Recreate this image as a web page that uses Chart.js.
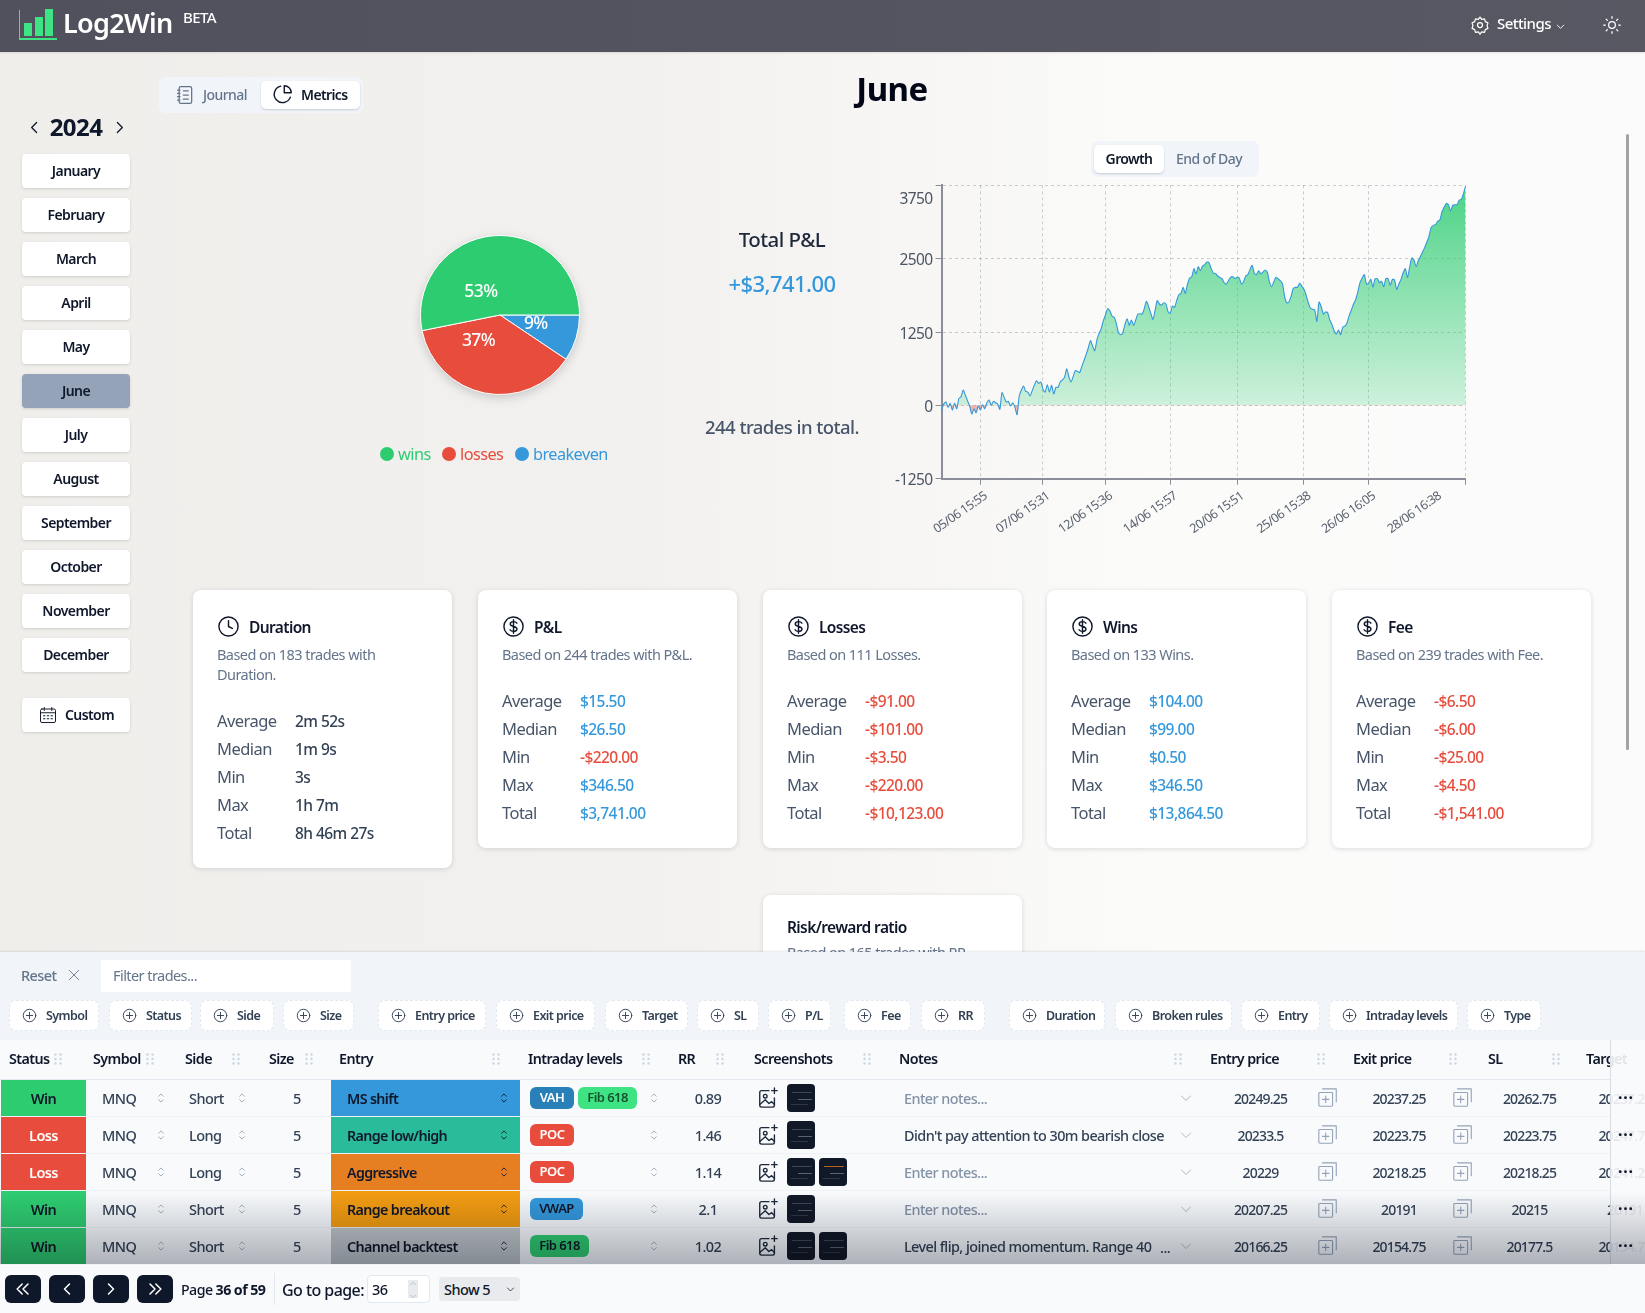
<!DOCTYPE html>
<html>
<head>
<meta charset="utf-8">
<script src="https://cdn.jsdelivr.net/npm/chart.js@4"></script>
<style>
  html, body { margin: 0; width: 1645px; height: 1313px; overflow: hidden; }
  body { position: relative; background: linear-gradient(90deg, #f0eeeb, #f3f1ef 40%, #fbfbfa 70%, #fbfbfb);
    font-family: "Noto Sans", sans-serif; font-stretch: condensed; letter-spacing: -0.035em; color: #0f172a; }
  .a { position: absolute; white-space: nowrap; box-sizing: border-box; }
  .btn { background: #fff; border-radius: 4px; box-shadow: 0 1px 3px rgba(15,23,42,.14); text-align: center; font-weight: 600; font-size: 14px; letter-spacing: -.04em; }
  svg { display: block; }
  canvas { position: absolute; }
</style>
</head>
<body>
<script>
// chart data
const growth = [
  -80, 23, 57, -34, 34, -80, 34, -57, 114, 148, 261, 176, 80, -11, -148, -57, -125, -11, -80, 11,
  -57, 45, 91, 0, 68, 45, 23, -68, 216, 136, 57, 68, -11, 45, -34, -159, 159, 261, 329, 239,
  227, 159, 250, 341, 420, 375, 398, 273, 227, 352, 227, 341, 193, 307, 307, 398, 432, 477, 625, 488,
  398, 488, 591, 579, 557, 659, 761, 863, 977, 1102, 1011, 932, 1113, 1227, 1306, 1443, 1545, 1647, 1613, 1522,
  1500, 1397, 1238, 1204, 1238, 1375, 1477, 1363, 1454, 1363, 1454, 1556, 1562, 1556, 1653, 1772, 1681, 1568, 1465, 1624,
  1784, 1727, 1710, 1749, 1727, 1596, 1568, 1693, 1670, 1784, 1886, 1908, 2011, 1908, 2067, 2170, 2192, 2329, 2238, 2363,
  2295, 2374, 2397, 2442, 2431, 2329, 2255, 2249, 2204, 2181, 2158, 2090, 2067, 2124, 2181, 2192, 2158, 2181, 2170, 2067,
  2107, 2204, 2227, 2317, 2386, 2249, 2227, 2295, 2238, 2272, 2306, 2272, 2107, 2022, 2102, 2181, 2158, 2124, 2079, 1863,
  1749, 1761, 1852, 1988, 2011, 2011, 2079, 2033, 1977, 1880, 1749, 1659, 1636, 1624, 1431, 1761, 1681, 1556, 1590, 1579,
  1454, 1375, 1272, 1216, 1284, 1204, 1329, 1352, 1409, 1534, 1624, 1727, 1806, 1937, 2090, 2170, 2227, 2067, 2079, 2147,
  2011, 2158, 2158, 2090, 2113, 2022, 2158, 2158, 2045, 2147, 2136, 1977, 2067, 2147, 2261, 2329, 2181, 2352, 2511, 2477,
  2363, 2465, 2533, 2613, 2692, 2783, 2885, 3033, 3067, 3079, 3135, 3158, 3300, 3374, 3442, 3419, 3317, 3408, 3419, 3419,
  3499, 3510, 3613, 3741
];
const yTicks = [-1250, 0, 1250, 2500, 3750];
const xTicks = [18, 47, 76, 106, 137, 168, 198, 228.5, 243];
const xLabels = ["05/06 15:55", "07/06 15:31", "12/06 15:36", "14/06 15:57", "20/06 15:51", "25/06 15:38", "26/06 16:05", "28/06 16:38", ""];

const pieLabels = ["breakeven", "losses", "wins"];
const pieValues = [9.4, 37.4, 53.1];
const pieColors = ["#3498db", "#e74c3c", "#2ecc71"];

// page text
const months = ["January", "February", "March", "April", "May", "June", "July", "August", "September", "October", "November", "December"];
const cardTitles = ["Duration", "P&L", "Losses", "Wins", "Fee"];
const cardDescs = ["Based on 183 trades with<br>Duration.", "Based on 244 trades with P&L.", "Based on 111 Losses.", "Based on 133 Wins.", "Based on 239 trades with Fee."];
const cardRows = ["Average", "Median", "Min", "Max", "Total"];
const durationVals = ["2m 52s", "1m 9s", "3s", "1h 7m", "8h 46m 27s"];
const pnlVals = ["$15.50", "$26.50", "-$220.00", "$346.50", "$3,741.00"];
const lossVals = ["-$91.00", "-$101.00", "-$3.50", "-$220.00", "-$10,123.00"];
const winVals = ["$104.00", "$99.00", "$0.50", "$346.50", "$13,864.50"];
const feeVals = ["-$6.50", "-$6.00", "-$25.00", "-$4.50", "-$1,541.00"];

const chips = [["Symbol",9,90],["Status",109,83],["Side",200,74],["Size",283,71],["Entry price",378,108],["Exit price",496,99],["Target",605,83],["SL",697,62],["P/L",768,63],["Fee",844,67],["RR",921,64],["Duration",1009,96],["Broken rules",1115,117],["Entry",1241,79],["Intraday levels",1329,129],["Type",1467,74]];
const heads = [["Status",9,54],["Symbol",93,146],["Side",185,232],["Size",269,305],["Entry",339,492],["Intraday levels",528,642],["RR",678,716],["Screenshots",754,863],["Notes",899,1174],["Entry price",1210,1317],["Exit price",1353,1449],["SL",1488,1552],["Target",1586,null]];
const statuses = ["Win", "Loss", "Loss", "Win", "Win"];
const sides = ["Short", "Long", "Long", "Short", "Short"];
const entries = ["MS shift", "Range low/high", "Aggressive", "Range breakout", "Channel backtest"];
const entryColors = ["#3498db", "#2abb9b", "#e67e22", "#f39c12", "#bdc3c7"];
const levels = [[["VAH","#2980b9","#fff"],["Fib 618","#3ee483","#14532d"]], [["POC","#e74c3c","#fff"]], [["POC","#e74c3c","#fff"]], [["VWAP","#3498db","#0f172a"]], [["Fib 618","#2ecc71","#0f172a"]]];
const rrs = ["0.89", "1.46", "1.14", "2.1", "1.02"];
const shotCounts = [1, 1, 2, 1, 2];
const notes = ["", "Didn't pay attention to 30m bearish close", "", "", "Level flip, joined momentum. Range 40"];
const entryPrices = ["20249.25", "20233.5", "20229", "20207.25", "20166.25"];
const exitPrices = ["20237.25", "20223.75", "20218.25", "20191", "20154.75"];
const slPrices = ["20262.75", "20223.75", "20218.25", "20215", "20177.5"];
const targetPrices = ["20237.25", "20247.75", "20241.25", "20191", "20154.75"];

function el(css, html, cls) {
  const d = document.createElement("div");
  d.className = "a " + (cls || "");
  d.style.cssText = css;
  if (html !== undefined) d.innerHTML = html;
  document.body.appendChild(d);
  return d;
}
function icon(w, body, color, sw) {
  return `<svg width="${w}" height="${w}" viewBox="0 0 24 24" fill="none" stroke="${color}" stroke-width="${sw || 1.5}" stroke-linecap="round" stroke-linejoin="round">${body}</svg>`;
}
const plusCircle = '<circle cx="12" cy="12" r="10"/><path d="M12 7v10M7 12h10"/>';
const dollarCircle = '<circle cx="12" cy="12" r="10"/><path d="M15.5 8.5c-.6-1-1.9-1.6-3.5-1.6-2 0-3.4 1-3.4 2.5 0 3.4 7 1.8 7 5.2 0 1.5-1.5 2.5-3.6 2.5-1.7 0-3-.6-3.6-1.7M12 5v14"/>';
const clockIcon = '<circle cx="12" cy="12" r="10"/><path d="M12 6v6l4 2"/>';
const chevLeft = '<path d="M15 5l-7 7 7 7"/>';
const chevRight = '<path d="M9 5l7 7-7 7"/>';
const updown = '<path d="M8 9l4-4 4 4M8 15l4 4 4-4"/>';
const gripDots = '<svg width="8" height="12"><g fill="#cbd5e1"><circle cx="1.5" cy="1.5" r="1.2"/><circle cx="6.5" cy="1.5" r="1.2"/><circle cx="1.5" cy="6" r="1.2"/><circle cx="6.5" cy="6" r="1.2"/><circle cx="1.5" cy="10.5" r="1.2"/><circle cx="6.5" cy="10.5" r="1.2"/></g></svg>';

// header
el("left:0;top:0;width:1645px;height:52px;background:linear-gradient(90deg,#50515d,#575862);box-shadow:0 1px 2px rgba(0,0,0,.1)");
el("left:19px;top:10px;width:38px;height:30px;border-left:1px solid #3ee483;border-bottom:2px solid #3ee483");
el("left:24px;top:23px;width:8px;height:13px;background:#3ee483");
el("left:35px;top:17px;width:8px;height:19px;background:#3ee483");
el("left:45px;top:9px;width:8px;height:27px;background:#3ee483");
el("left:63px;top:4px;font-size:27px;font-weight:600;color:#fff;letter-spacing:-.025em", "Log2Win");
el("left:183px;top:7px;font-size:15px;font-weight:500;color:#fff", "BETA");
el("left:1470px;top:15px", icon(20, '<circle cx="12" cy="12" r="3"/><path d="M12 2.5l2 2.8 3.4-.6 1 3.3 3.1 1.5-1 3.3 1 3.3-3.1 1.5-1 3.3-3.4-.6-2 2.8-2-2.8-3.4.6-1-3.3-3.1-1.5 1-3.3-1-3.3 3.1-1.5 1-3.3 3.4.6z"/>', "#fff"));
el("left:1497px;top:13px;font-size:15px;font-weight:500;color:#fff", "Settings");
el("left:1555px;top:21px", icon(11, '<path d="M5 9l7 7 7-7"/>', "#fff", 2));
el("left:1602px;top:15px", icon(20, '<circle cx="12" cy="12" r="4"/><path d="M12 2v2M12 20v2M2 12h2M20 12h2M5 5l1.5 1.5M17.500 17.500L19 19M5 19l1.500-1.500M17.500 6.500L19 5"/>', "#fff"));
el("left:1626px;top:134px;width:3px;height:616px;background:#a3a3a3;border-radius:2px");

// journal / metrics tabs
el("left:159px;top:77px;width:204px;height:36px;background:#f1f5f9;border-radius:7px");
el("left:261px;top:81px;width:99px;height:28px;background:#fff;border-radius:5px;box-shadow:0 1px 2px rgba(15,23,42,.18)");
el("left:175px;top:85px", icon(20, '<rect x="5" y="2" width="15" height="20" rx="2"/><path d="M3 6h3M3 10h3M3 14h3M3 18h3M10 7h6M10 12h6M10 17h6"/>', "#64748b"));
el("left:203px;top:85px;font-size:14px;font-weight:500;color:#64748b", "Journal");
el("left:272px;top:84px", icon(21, '<path d="M21 15a9.500 9.500 0 1 1-11-12.500"/><path d="M14 2a8 8 0 0 1 8 8h-8z"/>', "#0f172a", 1.6));
el("left:301px;top:85px;font-size:14px;font-weight:600;letter-spacing:-.045em", "Metrics");
el("left:792px;top:66px;width:200px;text-align:center;font-size:33px;font-weight:700;letter-spacing:-.015em;color:#020617", "June");

// year and months
el("left:26px;top:119px", icon(17, chevLeft, "#0f172a", 1.8));
el("left:111px;top:119px", icon(17, chevRight, "#0f172a", 1.8));
el("left:26px;top:110px;width:100px;text-align:center;font-size:24px;font-weight:700", "2024");
months.forEach((m, i) => {
  const bg = m === "June" ? "background:#94a3b8;" : "";
  el(`left:22px;top:${154 + i * 44}px;width:108px;height:34px;line-height:33px;${bg}`, m, "btn");
});
el("left:22px;top:698px;width:108px;height:34px;line-height:33px;padding-left:27px", "Custom", "btn");
el("left:39px;top:706px", icon(18, '<rect x="2" y="4" width="20" height="18" rx="2"/><path d="M2 9h20M7 2v4M17 2v4M6 13h2M11 13h2M16 13h2M6 17h2M11 17h2M16 17h2"/>', "#0f172a", 1.3));

// pie legend
[["wins", "#2ecc71", 380], ["losses", "#e74c3c", 442], ["breakeven", "#3498db", 515]].forEach(([t, c, x]) => {
  el(`left:${x}px;top:447px;width:14px;height:14px;border-radius:50%;background:${c}`);
  el(`left:${x + 18}px;top:443px;font-size:16.3px;color:${c}`, t);
});

// total p&l
el("left:682px;top:225px;width:200px;text-align:center;font-size:20.5px;font-weight:500;color:#1e293b", "Total P&amp;L");
el("left:682px;top:268px;width:200px;text-align:center;font-size:22px;font-weight:500;color:#3498db", "+$3,741.00");
el("left:682px;top:414px;width:200px;text-align:center;font-size:18.500px;font-weight:500;color:#475569", "244 trades in total.");

// growth toggle
el("left:1091px;top:141px;width:168px;height:36px;background:#f1f5f9;border-radius:7px");
el("left:1094px;top:145px;width:70px;height:28px;background:#fff;border-radius:5px;box-shadow:0 1px 2px rgba(15,23,42,.18)");
el("left:1094px;top:149px;width:70px;text-align:center;font-size:14px;font-weight:600;letter-spacing:-.045em", "Growth");
el("left:1164px;top:149px;width:90px;text-align:center;font-size:14px;font-weight:500;color:#64748b", "End of Day");

// stat cards
function valueColor(v, plain) {
  if (plain) return "#334155";
  return v[0] === "-" ? "#e74c3c" : "#3498db";
}
function card(x, h, title, desc, vals, rowsTop, ico, plain) {
  el(`left:${x}px;top:590px;width:259px;height:${h}px;background:#fff;border-radius:8px;box-shadow:0 1px 5px rgba(15,23,42,.14)`);
  el(`left:${x + 24}px;top:615px`, icon(23, ico, "#0f172a", 1.5));
  el(`left:${x + 56}px;top:616px;font-size:15.5px;font-weight:600;letter-spacing:-.04em`, title);
  el(`left:${x + 24}px;top:644px;font-size:14.500px;line-height:20px;color:#64748b`, desc);
  cardRows.forEach((r, i) => {
    const y = rowsTop + i * 28;
    el(`left:${x + 24}px;top:${y}px;font-size:16.500px;color:#475569`, r);
    el(`left:${x + 102}px;top:${y + 1}px;font-size:15.500px;font-weight:500;color:${valueColor(vals[i], plain)}`, vals[i]);
  });
}
card(193, 278, cardTitles[0], cardDescs[0], durationVals, 709, clockIcon, true);
card(478, 258, cardTitles[1], cardDescs[1], pnlVals, 689, dollarCircle);
card(763, 258, cardTitles[2], cardDescs[2], lossVals, 689, dollarCircle);
card(1047, 258, cardTitles[3], cardDescs[3], winVals, 689, dollarCircle);
card(1332, 258, cardTitles[4], cardDescs[4], feeVals, 689, dollarCircle);
el("left:763px;top:895px;width:259px;height:120px;background:#fff;border-radius:8px;box-shadow:0 1px 5px rgba(15,23,42,.14)");
el("left:787px;top:916px;font-size:15.5px;font-weight:600;letter-spacing:-.04em", "Risk/reward ratio");
el("left:787px;top:942px;font-size:14.500px;color:#64748b", "Based on 165 trades with RR.");

// bottom panel
el("left:0;top:952px;width:1645px;height:89px;background:#f1f5f9;box-shadow:0 -1px 2px rgba(15,23,42,.1)");
el("left:0;top:1040px;width:1645px;height:273px;background:#f8fafc");
el("left:21px;top:965px;font-size:14.5px;font-weight:500;color:#64748b", "Reset");
el("left:67px;top:968px", icon(14, '<path d="M4 4l16 16M20 4L4 20"/>', "#64748b"));
el("left:101px;top:960px;width:250px;height:32px;background:#fff;padding:5px 12px;font-size:14.5px;color:#64748b", "Filter trades...");
chips.forEach(([t, x, w]) => {
  el(`left:${x}px;top:1000px;width:${w}px;height:31px;background:#fff;border:1px dashed #e2e8f0;border-radius:7px`);
  el(`left:${x + 13}px;top:1008px`, icon(15, plusCircle, "#334155", 1.5));
  el(`left:${x + 37}px;top:1007px;font-size:12.5px;font-weight:600;color:#334155`, t);
});
heads.forEach(([t, x, g]) => {
  el(`left:${x}px;top:1049px;font-size:14.3px;font-weight:600;letter-spacing:-.04em`, t);
  if (g) el(`left:${g}px;top:1053px`, gripDots);
});
el("left:0;top:1079px;width:1645px;height:1px;background:#e2e8f0");

const rowH = 37;
statuses.forEach((s, i) => {
  const y = 1080 + i * rowH, cy = y + 8;
  el(`left:1px;top:${y}px;width:85px;height:36px;line-height:36px;text-align:center;font-size:14.5px;font-weight:600;background:${s === "Win" ? "#2ecc71" : "#e74c3c"};color:${s === "Win" ? "#0f172a" : "#fff"}`, s);
  el(`left:0;top:${y + 36}px;width:1610px;height:1px;background:#eef1f5`);
  el(`left:102px;top:${cy}px;font-size:14.5px;font-weight:500;color:#334155`, "MNQ");
  el(`left:189px;top:${cy}px;font-size:14.5px;font-weight:500;color:#334155`, sides[i]);
  el(`left:293px;top:${cy}px;font-size:14.5px;font-weight:500;color:#334155`, "5");
  [154, 235, 647].forEach(ux => el(`left:${ux}px;top:${y + 11}px`, icon(14, updown, "#94a3b8", 1.5)));
  el(`left:331px;top:${y}px;width:189px;height:36px;background:${entryColors[i]}`);
  el(`left:347px;top:${cy + 1}px;font-size:14.3px;font-weight:600;letter-spacing:-.045em`, entries[i]);
  el(`left:497px;top:${y + 11}px`, icon(14, updown, "#0f172a", 1.5));
  let lx = 530;
  levels[i].forEach(([t, bg, c]) => {
    const w = t === "Fib 618" ? 59 : t === "VWAP" ? 53 : 44;
    el(`left:${lx}px;top:${y + 7}px;width:${w}px;height:22px;line-height:21px;text-align:center;border-radius:6px;font-size:13px;font-weight:600;background:${bg};color:${c}`, t);
    lx += w + 4;
  });
  el(`left:670px;top:${cy}px;width:76px;text-align:center;font-size:14.5px;font-weight:500;color:#334155`, rrs[i]);
  el(`left:757px;top:${y + 7}px`, icon(22, '<path d="M13 4H5a2 2 0 0 0-2 2v14a2 2 0 0 0 2 2h12a2 2 0 0 0 2-2v-8"/><circle cx="9" cy="10" r="2"/><path d="M3 19l6-5 4 4 3-2 3 3M19 1v6M16 4h6"/>', "#1e293b", 1.5));
  for (let k = 0; k < shotCounts[i]; k++) {
    const stripe = k === 1 && i === 2 ? "#b8651d" : "#3b4657";
    el(`left:${787 + k * 32}px;top:${y + 4}px;width:28px;height:28px;border-radius:4px;background:linear-gradient(${stripe},${stripe}) 60% 30%/70% 1px no-repeat,linear-gradient(#566376,#566376) 80% 55%/50% 1px no-repeat,linear-gradient(#2c3748,#2c3748) 40% 75%/60% 1px no-repeat,#111827`);
  }
  const note = notes[i];
  el(`left:904px;top:${cy + 1}px;font-size:14.4px;font-weight:500;color:${note ? "#334155" : "#8492a6"}`, note || "Enter notes...");
  if (i === 4) el(`left:1160px;top:${cy + 1}px;font-size:14.5px;font-weight:500;color:#334155`, "...");
  el(`left:1180px;top:${y + 12}px`, icon(12, '<path d="M3 8l9 9 9-9"/>', "#94a3b8", 1.5));
  const price = "font-size:14px;font-weight:500;letter-spacing:-.06em;text-align:center;color:#334155";
  el(`left:1203px;top:${cy + 1}px;width:115px;${price}`, entryPrices[i]);
  el(`left:1345px;top:${cy + 1}px;width:108px;${price}`, exitPrices[i]);
  el(`left:1481px;top:${cy + 1}px;width:97px;${price}`, slPrices[i]);
  el(`left:1578px;top:${cy + 1}px;width:94px;${price}`, targetPrices[i]);
  [1317, 1452].forEach(cx => el(`left:${cx}px;top:${y + 7}px`, icon(22, '<rect x="2" y="6" width="15" height="15" rx="1"/><path d="M9.500 10v7M6 13.500h7M6 2h15v14"/>', "#94a3b8", 1.2)));
});
el("left:1610px;top:1040px;width:35px;height:224px;background:rgba(248,250,252,.9);border-left:1px solid #d8dde4");
statuses.forEach((s, i) => el(`left:1618px;top:${1080 + i * rowH + 6}px;font-size:16px;font-weight:700;letter-spacing:.05em`, "···"));
el("left:0;top:1192px;width:1645px;height:72px;mix-blend-mode:multiply;background:linear-gradient(180deg,#fff,#b2b5bb)");

// footer
[["M11 6l-6 6 6 6M18 6l-6 6 6 6"], ["M15 6l-6 6 6 6"], ["M9 6l6 6-6 6"], ["M6 6l6 6-6 6M13 6l6 6-6 6"]].forEach(([p], i) => {
  el(`left:${5 + i * 44}px;top:1275px;width:36px;height:28px;border-radius:6px;background:#0f172a;padding:4px 8px`, icon(20, `<path d="${p}"/>`, "#fff", 1.8));
});
el("left:181px;top:1280px;font-size:14.2px;font-weight:500", "Page <b>36 of 59</b>");
el("left:274px;top:1273px;width:1px;height:32px;background:#e2e8f0");
el("left:282px;top:1279px;font-size:16px;font-weight:500", "Go to page:");
el("left:367px;top:1275px;width:63px;height:28px;background:#fff;border:1px solid #e2e8f0;border-radius:4px;padding:3px 4px;font-size:14.5px;font-weight:500", "36");
el("left:408px;top:1280px;width:10px;height:18px;background:#e8eaee");
el("left:408px;top:1281px", icon(10, '<path d="M6 9l6-6 6 6"/>', "#94a3b8"));
el("left:408px;top:1289px", icon(10, '<path d="M6 15l6 6 6-6"/>', "#94a3b8"));
el("left:439px;top:1277px;width:81px;height:24px;background:#e8eaee;border-radius:4px;padding:2px 5px;font-size:14.5px;font-weight:500", "Show 5");
el("left:506px;top:1285px", icon(9, '<path d="M4 8l8 8 8-8"/>', "#0f172a", 2));

// pie chart: percent labels sit close to the centre, anchored away from it
const pieLabelPlugin = {
  id: "pieLabel",
  afterDatasetsDraw(chart) {
    const { ctx } = chart;
    ctx.save();
    ctx.fillStyle = "#fff";
    ctx.font = '500 17.5px "Noto Sans"';
    ctx.textBaseline = "middle";
    chart.getDatasetMeta(0).data.forEach((arc, i) => {
      const mid = (arc.startAngle + arc.endAngle) / 2;
      const r = arc.outerRadius * 0.314;
      ctx.textAlign = Math.cos(mid) >= 0 ? "left" : "right";
      ctx.fillText(Math.round(pieValues[i]) + "%", arc.x + Math.cos(mid) * r, arc.y + Math.sin(mid) * r + 1.5);
    });
    ctx.restore();
  }
};
const pieCanvas = document.createElement("canvas");
pieCanvas.style.cssText = "left:400px;top:215px;filter:drop-shadow(0 3px 5px rgba(30,41,59,.2))";
pieCanvas.width = 200;
pieCanvas.height = 200;
document.body.appendChild(pieCanvas);
new Chart(pieCanvas, {
  type: "pie",
  data: {
    labels: pieLabels,
    datasets: [{ data: pieValues, backgroundColor: pieColors, borderColor: "#fff", borderWidth: 1 }]
  },
  options: {
    responsive: false,
    animation: false,
    rotation: 90,
    layout: { padding: 20 },
    plugins: { legend: { display: false }, tooltip: { enabled: false } }
  },
  plugins: [pieLabelPlugin]
});

// growth line chart
const lineCanvas = document.createElement("canvas");
lineCanvas.style.cssText = "left:880px;top:170px";
lineCanvas.width = 610;
lineCanvas.height = 390;
document.body.appendChild(lineCanvas);
const gridColor = "rgba(80,85,95,.28)";
const axisColor = "#8b8e99";
const growthChart = new Chart(lineCanvas, {
  type: "line",
  data: {
    labels: growth.map((v, i) => i),
    datasets: [{
      data: growth.map((v, i) => ({ x: i, y: v })),
      borderColor: "#3498db",
      borderWidth: 1.1,
      pointRadius: 0,
      tension: 0.25
    }]
  },
  options: {
    responsive: false,
    animation: false,
    layout: { padding: { top: 15.3, right: 24.3 } },
    plugins: { legend: { display: false }, tooltip: { enabled: false } },
    scales: {
      x: {
        type: "linear",
        min: 0,
        max: growth.length - 1,
        afterBuildTicks: axis => { axis.ticks = xTicks.map(value => ({ value })); },
        afterFit: axis => {
          axis.height = 81.3;
          axis.paddingLeft = 0;
          axis.paddingRight = 0;
        },
        border: { color: axisColor, width: 2, dash: [3, 3] },
        grid: {
          // the last label sits apart from its grid line, so it gets a blank tick
          color: ctx => (ctx.index === 7 ? "transparent" : gridColor),
          tickColor: ctx => (ctx.index === 7 ? "transparent" : axisColor),
          tickLength: 6,
          tickBorderDash: []
        },
        ticks: {
          autoSkip: false,
          minRotation: 35,
          maxRotation: 35,
          padding: 4,
          labelOffset: 5.5,
          color: "#5b6270",
          font: { family: "Noto Sans", size: 12.5 },
          callback: (value, index) => xLabels[index]
        }
      },
      y: {
        min: -1250,
        max: 3750,
        afterBuildTicks: axis => { axis.ticks = yTicks.map(value => ({ value })); },
        afterFit: axis => {
          axis.width = 61.6;
          axis.paddingTop = 0;
          axis.paddingBottom = 0;
        },
        border: { color: axisColor, width: 2, dash: [3, 3] },
        grid: { color: gridColor, tickColor: axisColor, tickLength: 6, tickBorderDash: [] },
        ticks: {
          padding: 3,
          color: "#4b5563",
          font: { family: "Noto Sans", size: 15.5, lineHeight: 0.3 },
          // blank lines push the text down; the top label hangs well below its tick
          callback: value => Array(value === 3750 ? 6 : 1).fill("").concat(String(value))
        }
      }
    }
  }
});
// the zero-based gradient needs the finished scale
const gy = growthChart.scales.y;
const green = growthChart.ctx.createLinearGradient(0, gy.getPixelForValue(3750), 0, gy.getPixelForValue(0));
green.addColorStop(0, "rgba(46,204,113,.85)");
green.addColorStop(1, "rgba(46,204,113,.22)");
growthChart.data.datasets[0].fill = { target: { value: 0 }, above: green, below: "rgba(231,76,60,.4)" };
growthChart.update("none");
</script>
</body>
</html>
